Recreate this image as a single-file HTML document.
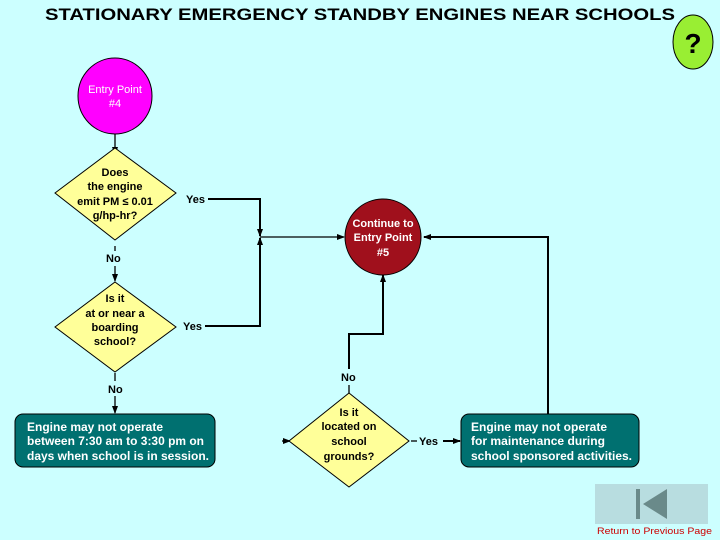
<!DOCTYPE html>
<html><head><style>
body{margin:0;background:#ccffff;}
svg{display:block;font-family:"Liberation Sans",Arial,sans-serif;}
</style></head><body>
<svg width="720" height="540" viewBox="0 0 720 540" xmlns="http://www.w3.org/2000/svg">
<defs><marker id="a" markerWidth="8" markerHeight="8" refX="7" refY="4" orient="auto" markerUnits="userSpaceOnUse"><path d="M0,1 L8,4 L0,7 Z" fill="#000"/></marker></defs>
<rect width="720" height="540" fill="#ccffff"/>
<text x="45" y="20" font-size="17" font-weight="bold" textLength="630" lengthAdjust="spacingAndGlyphs">STATIONARY EMERGENCY STANDBY ENGINES NEAR SCHOOLS</text>
<ellipse cx="693" cy="42" rx="20" ry="27" fill="#99ee33" stroke="#000" stroke-width="1"/>
<text x="693" y="53" text-anchor="middle" font-size="28" font-weight="bold">?</text>
<ellipse cx="115" cy="96" rx="37" ry="38" fill="#ff00ff" stroke="#000" stroke-width="1"/>
<text x="115" y="93" text-anchor="middle" font-size="11" fill="#fff">Entry Point</text>
<text x="115" y="107" text-anchor="middle" font-size="11" fill="#fff">#4</text>
<g stroke="#000" stroke-width="1.3" fill="none">
<line x1="115" y1="134" x2="115" y2="154" marker-end="url(#a)"/>
<line x1="115" y1="246" x2="115" y2="251"/>
<line x1="115" y1="266" x2="115" y2="281" marker-end="url(#a)"/>
<line x1="115" y1="373" x2="115" y2="381"/>
<line x1="115" y1="396" x2="115" y2="413" marker-end="url(#a)"/>
<polyline points="208,199 260,199 260,236" stroke-width="2" marker-end="url(#a)"/>
<polyline points="205,326 260,326 260,238" stroke-width="2" marker-end="url(#a)"/>
<line x1="260" y1="237" x2="344" y2="237" marker-end="url(#a)"/>
<polyline points="349,369 349,334 383,334 383,275" stroke-width="2" marker-end="url(#a)"/>
<polyline points="548,414 548,237 424,237" stroke-width="2" marker-end="url(#a)"/>
<line x1="349" y1="385" x2="349" y2="394"/>
<line x1="411" y1="441" x2="417" y2="441"/>
<line x1="443" y1="441" x2="460" y2="441" stroke-width="2" marker-end="url(#a)"/>
<line x1="282" y1="441" x2="290" y2="441" marker-end="url(#a)"/>
</g>
<polygon points="115,148 176,193 115,240 55,193" fill="#ffff99" stroke="#000"/>
<g font-size="11" font-weight="bold" text-anchor="middle">
<text x="115" y="176">Does</text><text x="115" y="190">the engine</text><text x="115" y="205">emit PM ≤ 0.01</text><text x="115" y="219">g/hp-hr?</text>
</g>
<polygon points="115,282 176,327 115,372 55,327" fill="#ffff99" stroke="#000"/>
<g font-size="11" font-weight="bold" text-anchor="middle">
<text x="115" y="302">Is it</text><text x="115" y="317">at or near a</text><text x="115" y="331">boarding</text><text x="115" y="345">school?</text>
</g>
<polygon points="349,393 409,441 349,487 289,441" fill="#ffff99" stroke="#000"/>
<g font-size="11" font-weight="bold" text-anchor="middle">
<text x="349" y="416">Is it</text><text x="349" y="430">located on</text><text x="349" y="445">school</text><text x="349" y="460">grounds?</text>
</g>
<g font-size="11" font-weight="bold">
<text x="186" y="203">Yes</text><text x="183" y="330">Yes</text>
<text x="106" y="262">No</text><text x="108" y="393">No</text><text x="341" y="381">No</text>
<text x="419" y="445">Yes</text>
</g>
<circle cx="383" cy="237" r="38" fill="#a0101c" stroke="#000"/>
<g font-size="11" font-weight="bold" fill="#fff" text-anchor="middle">
<text x="383" y="227">Continue to</text><text x="383" y="241">Entry Point</text><text x="383" y="256">#5</text>
</g>
<rect x="15" y="414" width="200" height="53" rx="8" fill="#007070" stroke="#000"/>
<g font-size="11.5" font-weight="bold" fill="#fff">
<text x="27" y="431" textLength="136" lengthAdjust="spacingAndGlyphs">Engine may not operate</text><text x="27" y="445" textLength="177" lengthAdjust="spacingAndGlyphs">between 7:30 am to 3:30 pm on</text><text x="27" y="460" textLength="182" lengthAdjust="spacingAndGlyphs">days when school is in session.</text>
</g>
<rect x="461" y="414" width="178" height="53" rx="8" fill="#007070" stroke="#000"/>
<g font-size="11.5" font-weight="bold" fill="#fff">
<text x="471" y="431" textLength="136" lengthAdjust="spacingAndGlyphs">Engine may not operate</text><text x="471" y="445" textLength="134" lengthAdjust="spacingAndGlyphs">for maintenance during</text><text x="471" y="460" textLength="161" lengthAdjust="spacingAndGlyphs">school sponsored activities.</text>
</g>
<rect x="595" y="484" width="113" height="40" fill="#b8dde0"/>
<rect x="636" y="489" width="4" height="30" fill="#6a8a8a"/>
<polygon points="667,489 667,519 643,504" fill="#6a8a8a"/>
<text x="597" y="534" font-size="9.5" fill="#cc0000" textLength="115" lengthAdjust="spacingAndGlyphs">Return to Previous Page</text>
</svg>
</body></html>
